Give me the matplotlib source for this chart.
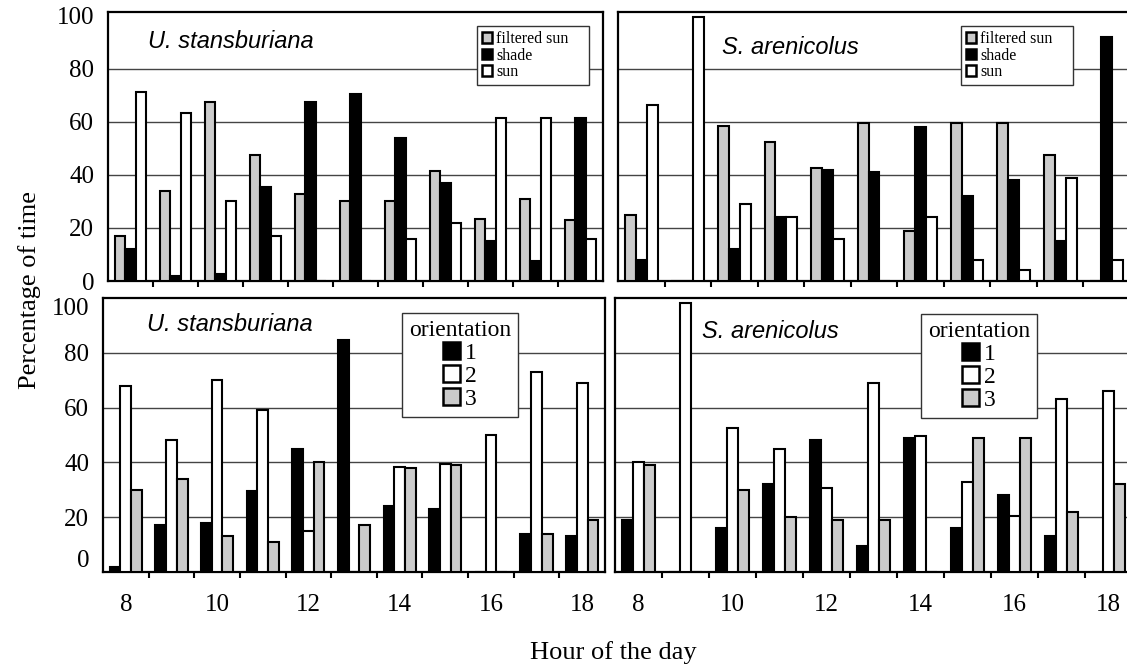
#Microhabitat use and body orientation of two lizards by hour
import numpy as np
import matplotlib
matplotlib.use('Agg')
import matplotlib.pyplot as plt
from matplotlib.patches import Patch

plt.rcParams['font.family'] = 'Liberation Serif'

#Data (percentage of time)
hours = [8, 9, 10, 11, 12, 13, 14, 15, 16, 17, 18]
hour_labels = ['8', '10', '12', '14', '16', '18']

u_filtered = [17, 34, 67.5, 47.5, 33, 30, 30, 41.5, 23.5, 31, 23]
u_shade = [12, 2, 2.5, 35.5, 67.5, 70.5, 54, 37, 15, 7.5, 61.5]
u_sun = [71.5, 63.5, 30, 17, 0, 0, 16, 22, 61.5, 61.5, 16]

s_filtered = [25, 0, 58.5, 52.5, 42.5, 59.5, 19, 59.5, 59.5, 47.5, 0]
s_shade = [8, 0, 12, 24, 42, 41, 58, 32, 38, 15, 92]
s_sun = [66.5, 99.5, 29, 24, 16, 0, 24, 8, 4, 39, 8]

u_orient1 = [2, 17, 18, 29.5, 45, 84.5, 24, 23, 0, 14, 13]
u_orient2 = [68, 48, 70, 59, 15, 0, 38.5, 39.5, 50, 73, 69]
u_orient3 = [30, 34, 13, 11, 40, 17, 38, 39, 0, 14, 19]

s_orient1 = [19, 0, 16, 32, 48, 9.5, 49, 16, 28, 13, 0]
s_orient2 = [40, 98, 52.5, 45, 30.5, 69, 49.5, 33, 20.5, 63, 66]
s_orient3 = [39, 0, 30, 20, 19, 19, 0, 49, 49, 22, 32]

light_names = ['filtered sun', 'shade', 'sun']
orient_names = ['1', '2', '3']

GRAY = '#cbcbcb'
light_colors = [GRAY, 'black', 'white']
orient_colors = ['black', 'white', GRAY]

fig = plt.figure(figsize=(11.27, 6.68), dpi=100)
W, H = 1127.0, 668.0

def make_ax(x0, y0, x1, y1):
    return fig.add_axes([x0 / W, 1 - y1 / H, (x1 - x0) / W, (y1 - y0) / H])

ax_tl = make_ax(108, 12, 603, 281)
ax_tr = make_ax(618, 12, 1130, 281)
ax_bl = make_ax(103, 298, 605, 572)
ax_br = make_ax(615, 298, 1132, 572)

x = np.arange(len(hours))
w = 0.235

def draw_panel(ax, series, colors, ytop, left, bottom_row):
    for i, (vals, c) in enumerate(zip(series, colors)):
        ax.bar(x + (i - 1) * w, vals, width=w, color=c, edgecolor='black',
               linewidth=1.5, zorder=3)
    ax.set_xlim(-0.5, len(hours) - 0.5)
    ax.set_ylim(0, ytop)
    ax.set_yticks([0, 20, 40, 60, 80, 100])
    for g in [20, 40, 60, 80]:
        ax.axhline(g, color='#444444', linewidth=1.0, zorder=1)
    for sp in ax.spines.values():
        sp.set_linewidth(1.6)
        sp.set_color('black')
    ax.set_xticks(x[::2])
    ax.set_xticks(x[:-1] + 0.5, minor=True)
    ax.tick_params(axis='x', which='minor', direction='out', length=4, width=1.5)
    ax.tick_params(axis='x', which='major', length=0, pad=16, labelsize=18)
    if bottom_row:
        ax.set_xticklabels(hour_labels)
    else:
        ax.set_xticklabels([])
    ax.tick_params(axis='y', length=0, pad=10, labelsize=18)
    if not left:
        ax.set_yticklabels([])

draw_panel(ax_tl, [u_filtered, u_shade, u_sun], light_colors, 101.5, True, False)
draw_panel(ax_tr, [s_filtered, s_shade, s_sun], light_colors, 101.5, False, False)
draw_panel(ax_bl, [u_orient1, u_orient2, u_orient3], orient_colors, 100, True, True)
draw_panel(ax_br, [s_orient1, s_orient2, s_orient3], orient_colors, 100, False, True)

#Keep the lower panel's end labels inside its frame
yt = ax_bl.yaxis.get_major_ticks()
yt[0].label1.set_va('bottom')
yt[-1].label1.set_va('top')

#Species names
sp_font = dict(family='Liberation Sans', style='italic', fontsize=17, va='center')
fig.text(148 / W, 1 - 42 / H, 'U. stansburiana', **sp_font)
fig.text(722 / W, 1 - 47 / H, 'S. arenicolus', **sp_font)
fig.text(147 / W, 1 - 325 / H, 'U. stansburiana', **sp_font)
fig.text(702 / W, 1 - 332 / H, 'S. arenicolus', **sp_font)

#Legends
def light_legend(ax, x0, y0, wd):
    handles = [Patch(facecolor=c, edgecolor='black', linewidth=1.8) for c in light_colors]
    leg = ax.legend(handles, light_names, loc='upper left', bbox_to_anchor=(x0, y0, wd, 0),
                    mode='expand', borderaxespad=0, fontsize=11.5, handlelength=0.65,
                    handleheight=0.65, handletextpad=0.25, labelspacing=0.05,
                    borderpad=0.3, fancybox=False, framealpha=1, edgecolor='#333333')
    leg.get_frame().set_linewidth(1.0)
    leg.set_zorder(5)

def orient_legend(ax, ax_x, ax_y):
    handles = [Patch(facecolor=c, edgecolor='black', linewidth=1.8) for c in orient_colors]
    leg = ax.legend(handles, orient_names, title='orientation', loc='upper right',
                    bbox_to_anchor=(ax_x, ax_y), borderaxespad=0, fontsize=17,
                    title_fontsize=17, handlelength=0.72, handleheight=0.72,
                    handletextpad=0.2, labelspacing=0.05, borderpad=0.3,
                    fancybox=False, framealpha=1, edgecolor='#333333')
    leg.get_frame().set_linewidth(1.0)
    leg.set_zorder(5)

light_legend(ax_tl, 0.7455, 0.948, 0.2263)
light_legend(ax_tr, 0.670, 0.948, 0.2188)
orient_legend(ax_bl, 0.827, 0.945)
orient_legend(ax_br, 0.816, 0.942)

#Axis titles
fig.text(30 / W, 1 - 290 / H, 'Percentage of time', rotation=90, fontsize=19,
         ha='center', va='center')
fig.text(613 / W, 1 - 653 / H, 'Hour of the day', fontsize=19, ha='center', va='center')

fig.savefig('out.png', dpi=100)
